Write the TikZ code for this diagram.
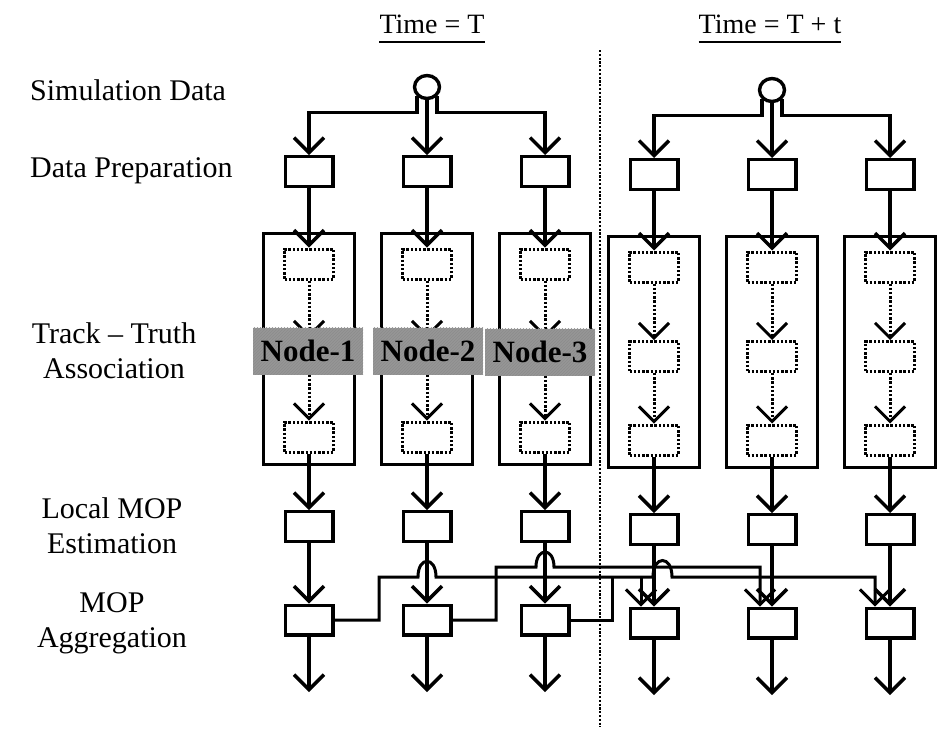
\documentclass[tikz,border=0pt]{standalone}
\usepackage{fontspec}
\setmainfont{Liberation Serif}
\usetikzlibrary{arrows.meta,shapes.geometric,patterns}
\definecolor{labgray}{RGB}{150,150,150}
\begin{document}
\begin{tikzpicture}[x=1pt,y=-1pt,
  sbox/.style={draw,line width=3.4pt,minimum width=47.6pt,minimum height=29.6pt,inner sep=0pt},
  dbox/.style={draw,line width=3pt,dash pattern=on 2.4pt off 1.8pt,minimum width=49pt,minimum height=30pt,inner sep=0pt},
  bbox/.style={draw,line width=3.4pt,minimum width=90.6pt,minimum height=230.6pt,inner sep=0pt},
  srcnode/.style={draw,ellipse,line width=3.4pt,minimum width=25pt,minimum height=23pt,inner sep=0pt},
  tipv/.style={-{Straight Barb[length=15pt,width=30pt]}},
  flow/.style={line width=3.4pt,tipv},
  dflow/.style={line width=3pt,dash pattern=on 2.4pt off 1.8pt,tipv},
  wire/.style={line width=3pt},
  nlabel/.style={fill=labgray,postaction={pattern=north east lines,pattern color=black!45},minimum width=110pt,minimum height=47pt,inner sep=0pt,font=\fontsize{31}{34}\selectfont\bfseries},
  rowlbl/.style={font=\fontsize{30}{35}\selectfont,inner sep=0pt,anchor=base},
  hdr/.style={font=\fontsize{28}{33}\selectfont,inner sep=0pt,anchor=base},
  divider/.style={line width=2.8pt,dash pattern=on 2.2pt off 1.6pt}
]
\useasboundingbox (0,0) rectangle (945,729);

% headers
\node[hdr] (hT) at (432,33) {Time = T};
\draw[line width=2.2pt] ([yshift=-9pt]hT.base west) -- ([yshift=-9pt]hT.base east);
\node[hdr] (hTt) at (770,33) {Time = T + t};
\draw[line width=2.2pt] ([yshift=-9pt]hTt.base west) -- ([yshift=-9pt]hTt.base east);

% divider
\coordinate (dvTop) at (600,50);
\coordinate (dvBot) at (600,727);
\draw[divider] (dvTop) -- (dvBot);

% row labels
\node[rowlbl,anchor=base west] (lSim) at (30,100) {Simulation Data};
\node[rowlbl,anchor=base west] (lPrep) at (30,177) {Data Preparation};
\node[rowlbl] (lTrk1) at (114,343) {Track – Truth};
\node[rowlbl] (lTrk2) at (114,378) {Association};
\node[rowlbl] (lLoc1) at (112,518) {Local MOP};
\node[rowlbl] (lLoc2) at (112,553) {Estimation};
\node[rowlbl] (lAgg1) at (112,612) {MOP};
\node[rowlbl] (lAgg2) at (112,647) {Aggregation};

% two time groups
\foreach \g/\dy/\sx/\xa/\xb/\xc in {L/0/427/309/427/545, R/3/772/654/772/890}{
  \node[srcnode] (src\g) at (\sx,87+\dy) {};
  \foreach \i/\x in {1/\xa,2/\xb,3/\xc}{
    \node[bbox] (big\g\i) at (\x,349+\dy) {};
    \node[sbox] (dp\g\i) at (\x,171.5+\dy) {};
    \node[dbox] (dt\g\i) at (\x,264+\dy) {};
    \node[dbox] (db\g\i) at (\x,437+\dy) {};
    \node[sbox] (lm\g\i) at (\x,526.5+\dy) {};
    \node[sbox] (ag\g\i) at (\x,620+\dy) {};
    \coordinate (out\g\i) at (\x,692+\dy);
    \draw[flow] (dp\g\i.south) -- (dt\g\i.north);
    \draw[flow] (db\g\i.south) -- (lm\g\i.north);
    \draw[flow] (lm\g\i.south) -- (ag\g\i.north);
    \draw[flow] (ag\g\i.south) -- (out\g\i);
  }
  \draw[flow] (src\g.south west) -- ++(0,16) -| (dp\g1.north);
  \draw[flow] (src\g.south) -- (dp\g2.north);
  \draw[flow] (src\g.south east) -- ++(0,16) -| (dp\g3.north);
}

% right group: visible middle dotted boxes
\foreach \i/\x in {1/654,2/772,3/890}{
  \node[dbox] (dmR\i) at (\x,356.5) {};
  \draw[dflow] (dtR\i.south) -- (dmR\i.north);
  \draw[dflow] (dmR\i.south) -- (dbR\i.north);
}

% left group: dotted arrows running under the node labels
\foreach \i/\x in {1/309,2/427,3/545}{
  \coordinate (hidL\i) at (\x,338);
  \draw[dflow] (dtL\i.south) -- (hidL\i);
}
\node[nlabel] (nd1) at (308,351) {Node-1};
\node[nlabel] (nd2) at (428,351) {Node-2};
\node[nlabel] (nd3) at (540,352) {Node-3};
\draw[dflow] (nd1.south -| dbL1.north) -- (dbL1.north);
\draw[dflow] (nd2.south -| dbL2.north) -- (dbL2.north);
\draw[dflow] (nd3.south -| dbL3.north) -- (dbL3.north);

% aggregation wiring
\coordinate (jA) at (641,577);
\draw[wire,tipv] (agL1.east) -- (379,620) -- (379,577) -- (418,577)
  .. controls (418,556) and (436,556) .. (436,577) -- (653,577)
  .. controls (653,555) and (672,555) .. (672,577) -- (875,577)
  -- ([xshift=-15pt]agR3.north);
\draw[wire,tipv] (agL2.east) -- (496,620) -- (496,567) -- (536,567)
  .. controls (536,547) and (554,547) .. (554,567) -- (760,567)
  -- ([xshift=-12pt]agR2.north);
\draw[wire] (agL3.east) -- (612,620) -- (612,577);
\draw[wire,tipv] (jA) -- ([xshift=-13pt]agR1.north);
\end{tikzpicture}
\end{document}
